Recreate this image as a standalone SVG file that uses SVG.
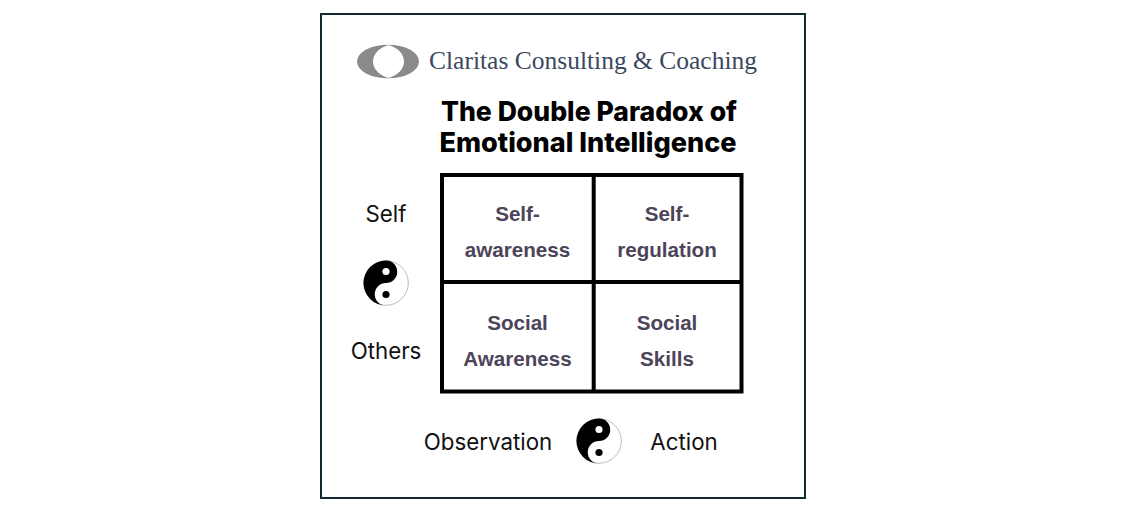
<svg xmlns="http://www.w3.org/2000/svg" width="1138" height="508" viewBox="0 0 1138 508">
<style>
.logo{font-family:"Liberation Serif",serif;font-size:26px;fill:#3a4860}
.title{font-family:"Inter","Liberation Sans",sans-serif;font-size:27px;font-weight:800;fill:#000;text-anchor:middle}
.lab{font-family:"Inter","Liberation Sans",sans-serif;font-size:22.300px;fill:#111;text-anchor:middle}
.cell{font-family:"Liberation Sans",sans-serif;font-size:20.600px;font-weight:700;fill:#4d4459;text-anchor:middle}
.grid{fill:none;stroke:#000;stroke-width:4}
</style>
<defs>
<g id="yy">
<circle r="22.3" fill="#fff" stroke="#aaa" stroke-width="0.8"/>
<path d="M0,-22.5A22.5,22.5 0 0 0 0,22.5A11.25,11.25 0 0 1 0,0A11.25,11.25 0 0 0 0,-22.5Z" fill="#000"/>
<circle cy="-11.5" r="3.6" fill="#fff"/>
<circle cy="11.5" r="3.6" fill="#000"/>
</g>
</defs>
<rect width="1138" height="508" fill="#fff"/>
<rect id="frame" x="321" y="14" width="484" height="484" fill="#fff" stroke="#10282f" stroke-width="2"/>
<g id="logo">
<ellipse cx="388" cy="61.500" rx="31" ry="16.800" fill="#8a8a8a"/>
<path fill="#fff" d="M388.500,45C379,48 373,54 373,61.500C373,69 379,75 388.500,78C398,75 404,69 404,61.500C404,54 398,48 388.500,45Z"/>
<text class="logo" x="429" y="69" textLength="328" lengthAdjust="spacingAndGlyphs">Claritas Consulting &amp; Coaching</text>
</g>
<g id="title">
<text class="title" x="589" y="121" textLength="296" lengthAdjust="spacingAndGlyphs">The Double Paradox of</text>
<text class="title" x="588" y="152" textLength="297" lengthAdjust="spacingAndGlyphs">Emotional Intelligence</text>
</g>
<g id="matrix">
<rect class="grid" x="442" y="175" width="299.500" height="216.500"/>
<path class="grid" d="M593.700,175V391.500M442,282H741.500"/>
</g>
<g id="cell-self-awareness"><text class="cell" x="517.500" y="221">Self-</text><text class="cell" x="517.500" y="257">awareness</text></g>
<g id="cell-self-regulation"><text class="cell" x="667" y="221">Self-</text><text class="cell" x="667" y="257">regulation</text></g>
<g id="cell-social-awareness"><text class="cell" x="517.500" y="330">Social</text><text class="cell" x="517.500" y="366">Awareness</text></g>
<g id="cell-social-skills"><text class="cell" x="667" y="330">Social</text><text class="cell" x="667" y="366">Skills</text></g>
<g id="label-self"><text class="lab" x="386" y="222">Self</text></g>
<g id="yinyang-vertical"><use href="#yy" x="386" y="283"/></g>
<g id="label-others"><text class="lab" x="386" y="359">Others</text></g>
<g id="label-observation"><text class="lab" x="488" y="450">Observation</text></g>
<g id="yinyang-horizontal"><use href="#yy" x="599" y="441"/></g>
<g id="label-action"><text class="lab" x="684" y="450">Action</text></g>
</svg>
